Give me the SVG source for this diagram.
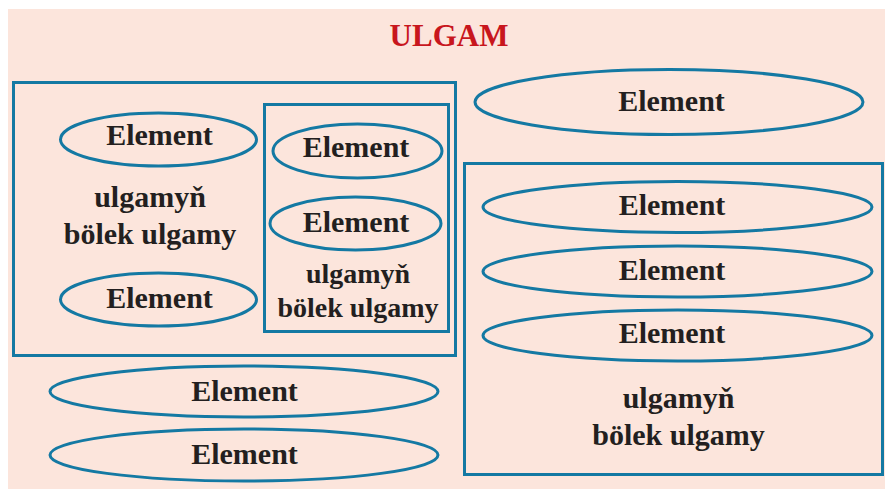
<svg xmlns="http://www.w3.org/2000/svg" width="885" height="489" viewBox="0 0 885 489">
<style>
.bg{fill:#FCE5DC}
.box{fill:none;stroke:#1479A3;stroke-width:3}
.el{fill:none;stroke:#1479A3;stroke-width:3}
.t{font-family:"Liberation Serif","Times New Roman",serif;font-weight:bold;fill:#231F20;text-anchor:middle}
.s30{font-size:30px}
.s28{font-size:28px}
.title{font-family:"Liberation Serif","Times New Roman",serif;font-weight:bold;font-size:31px;fill:#C8161D;text-anchor:middle}
</style>
<rect class="bg" x="8" y="9" width="877" height="480"/>
<text class="title" x="449" y="46">ULGAM</text>

<g id="subsystem-left">
  <rect class="box" x="13.5" y="82.5" width="442" height="273"/>
  <text class="t s30" x="150" y="207">ulgamyň</text>
  <text class="t s30" x="150" y="244">bölek ulgamy</text>
</g>
<g id="el-left-1">
  <ellipse class="el" cx="158.5" cy="139.5" rx="98" ry="26.5"/>
  <text class="t s30" x="159.5" y="145">Element</text>
</g>
<g id="el-left-2">
  <ellipse class="el" cx="158.5" cy="299.5" rx="98" ry="26.5"/>
  <text class="t s30" x="159.5" y="308">Element</text>
</g>

<g id="subsystem-inner">
  <rect class="box" x="264.5" y="104.5" width="184" height="227"/>
  <text class="t s28" x="358" y="283">ulgamyň</text>
  <text class="t s28" x="358" y="317">bölek ulgamy</text>
</g>
<g id="el-inner-1">
  <ellipse class="el" cx="357.5" cy="151" rx="84.5" ry="27"/>
  <text class="t s30" x="356" y="157">Element</text>
</g>
<g id="el-inner-2">
  <ellipse class="el" cx="355.5" cy="223.5" rx="85.5" ry="26.5"/>
  <text class="t s30" x="356" y="232">Element</text>
</g>

<g id="el-top-right">
  <ellipse class="el" cx="669" cy="102" rx="194" ry="32.5"/>
  <text class="t s30" x="671.5" y="111">Element</text>
</g>

<g id="subsystem-right">
  <rect class="box" x="464.5" y="163.5" width="418" height="311"/>
  <text class="t s30" x="678.5" y="408">ulgamyň</text>
  <text class="t s30" x="678.5" y="445">bölek ulgamy</text>
</g>
<g id="el-right-1">
  <ellipse class="el" cx="677.5" cy="207" rx="194.5" ry="25.5"/>
  <text class="t s30" x="672" y="215">Element</text>
</g>
<g id="el-right-2">
  <ellipse class="el" cx="677.5" cy="271.5" rx="194.5" ry="25.5"/>
  <text class="t s30" x="672" y="280">Element</text>
</g>
<g id="el-right-3">
  <ellipse class="el" cx="677.5" cy="335.5" rx="194.5" ry="25.5"/>
  <text class="t s30" x="672" y="343">Element</text>
</g>

<g id="el-bottom-1">
  <ellipse class="el" cx="244" cy="391.5" rx="194" ry="25.5"/>
  <text class="t s30" x="244.5" y="401">Element</text>
</g>
<g id="el-bottom-2">
  <ellipse class="el" cx="244" cy="455" rx="194" ry="26"/>
  <text class="t s30" x="244.5" y="464">Element</text>
</g>
<g id="connectors"/>
</svg>
